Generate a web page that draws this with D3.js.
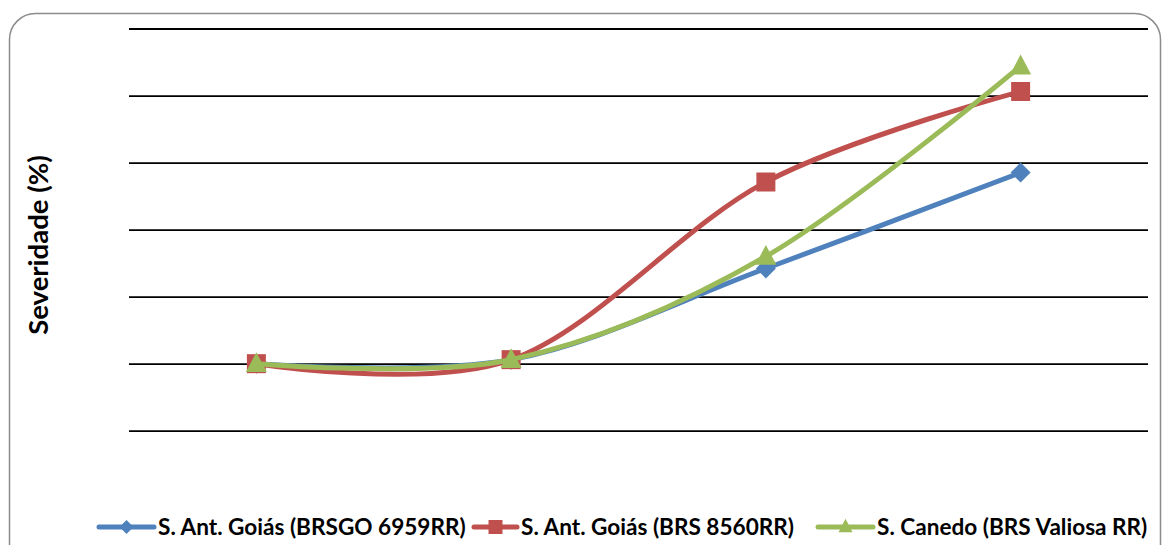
<!DOCTYPE html>
<html>
<head>
<meta charset="utf-8">
<script src="https://cdn.jsdelivr.net/npm/d3@7"></script>
<style>
  html, body { margin: 0; padding: 0; background: #fff; }
  svg { display: block; }
</style>
</head>
<body>
<svg id="chart" width="1162" height="545"></svg>
<script>
// Disease severity (%) over four evaluations
const evaluations = ["Avaliação 1", "Avaliação 2", "Avaliação 3", "Avaliação 4"];
const seriesNames = [
  "S. Ant. Goiás (BRSGO 6959RR)",
  "S. Ant. Goiás (BRS 8560RR)",
  "S. Canedo (BRS Valiosa RR)"
];
const goiasBRSGO6959 = [10, 10.6, 24.2, 38.5];
const goiasBRS8560   = [10, 10.6, 37.1, 50.6];
const canedoValiosa  = [10, 10.6, 26.0, 54.4];
const yTicks = [0, 10, 20, 30, 40, 50, 60];

const colors = ["#4F81BD", "#C0504D", "#9BBB59"];
const markers = ["diamond", "square", "triangle"];
const values = [goiasBRSGO6959, goiasBRS8560, canedoValiosa];

const svg = d3.select("#chart");
const font = "Lato, 'Open Sans', 'Liberation Sans', sans-serif";

// Rounded outer frame
svg.append("rect")
  .attr("x", 9.5).attr("y", 13.5)
  .attr("width", 1151).attr("height", 560)
  .attr("rx", 26).attr("ry", 26)
  .attr("fill", "#fff")
  .attr("stroke", "#8c8c8c")
  .attr("stroke-width", 1.5);

const x = d3.scalePoint().domain(evaluations).range([129, 1148]).padding(0.5);
const y = d3.scaleLinear().domain([0, 60]).range([430.7, 28.5]);

// Horizontal gridlines
svg.append("g")
  .attr("transform", "translate(129,0)")
  .call(d3.axisLeft(y).tickValues(yTicks).tickSize(-(1148 - 129)).tickFormat(""))
  .call(g => g.select(".domain").remove())
  .call(g => g.selectAll(".tick line")
    .attr("stroke", "#000")
    .attr("stroke-width", 1.8));

// Y axis title
svg.append("text")
  .attr("transform", "translate(48,245) rotate(-90)")
  .attr("text-anchor", "middle")
  .attr("font-family", font)
  .attr("font-weight", "bold")
  .attr("font-size", 27.5)
  .attr("fill", "#000")
  .text("Severidade (%)");

function markerPath(kind, s) {
  if (kind === "square") {
    return `M${-s/2},${-s/2}H${s/2}V${s/2}H${-s/2}Z`;
  }
  if (kind === "diamond") {
    return `M0,${-s/2}L${s/2},0L0,${s/2}L${-s/2},0Z`;
  }
  // triangle pointing up, centred on its bounding box
  const h = s * 0.9;
  return `M0,${-h/2 - 2}L${s/2},${h/2 - 1}L${-s/2},${h/2 - 1}Z`;
}

const line = d3.line()
  .x((d, i) => x(evaluations[i]))
  .y(d => y(d))
  .curve(d3.curveCardinal.tension(0));

const markerSize = { diamond: 20, square: 19, triangle: 21 };

values.forEach((vals, si) => {
  const g = svg.append("g");
  g.append("path")
    .datum(vals)
    .attr("d", line)
    .attr("fill", "none")
    .attr("stroke", colors[si])
    .attr("stroke-width", 5)
    .attr("stroke-linejoin", "round")
    .attr("stroke-linecap", "round");
  g.selectAll("path.mk")
    .data(vals)
    .join("path")
    .attr("class", "mk")
    .attr("transform", (d, i) => `translate(${x(evaluations[i])},${y(d)})`)
    .attr("d", markerPath(markers[si], markerSize[markers[si]]))
    .attr("fill", colors[si]);
});

// Legend
const legendItems = [
  { lineX: 99, textX: 158 },
  { lineX: 474, textX: 521 },
  { lineX: 818, textX: 877 }
];
const legY = 527;
const legFont = 22.6;
const lg = svg.append("g");
seriesNames.forEach((name, i) => {
  const item = lg.append("g");
  const lx = legendItems[i].lineX;
  const lx2 = legendItems[i].textX - 4;
  item.append("line")
    .attr("x1", lx).attr("x2", lx2)
    .attr("y1", legY).attr("y2", legY)
    .attr("stroke", colors[i])
    .attr("stroke-width", 5)
    .attr("stroke-linecap", "round");
  item.append("path")
    .attr("transform", `translate(${(lx + lx2) / 2},${legY})`)
    .attr("d", markerPath(markers[i], 14))
    .attr("fill", colors[i]);
  item.append("text")
    .attr("x", legendItems[i].textX)
    .attr("y", legY + 8)
    .attr("font-family", font)
    .attr("font-weight", "bold")
    .attr("font-size", legFont)
    .attr("fill", "#000")
    .text(name);
});
</script>
</body>
</html>
